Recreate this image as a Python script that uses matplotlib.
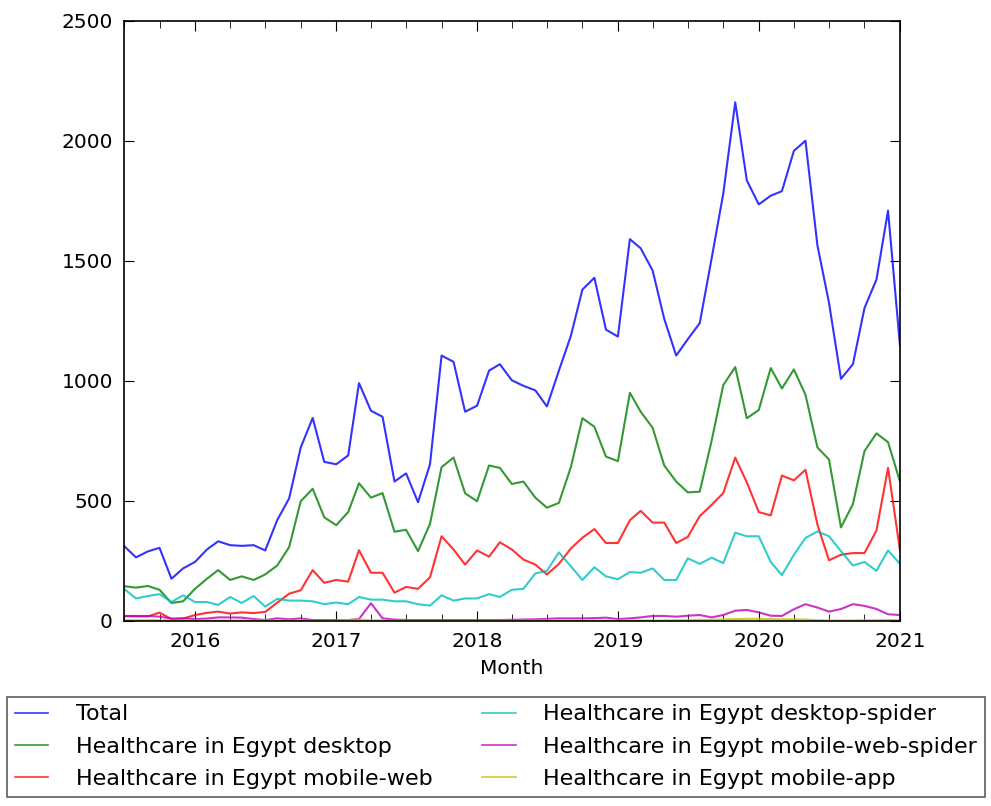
import matplotlib
matplotlib.use("Agg")
import matplotlib.pyplot as plt
import matplotlib.dates as mdates
import pandas as pd
import numpy as np

months = pd.date_range("2015-07-01", "2021-01-01", freq="MS")

total = [313, 265, 290, 305, 176, 219,
         246, 298, 332, 316, 313, 316, 294, 420, 511, 723, 846, 663,
         653, 690, 991, 876, 851, 581, 615, 495, 653, 1106, 1080, 872,
         897, 1043, 1070, 1003, 980, 961, 894, 1043, 1188, 1381, 1430, 1214,
         1185, 1591, 1553, 1460, 1259, 1106, 1174, 1241, 1512, 1781, 2161, 1836,
         1736, 1772, 1791, 1959, 2001, 1565, 1326, 1009, 1070, 1304, 1423, 1710,
         1147]
desktop = [145, 139, 146, 130, 75, 82,
           134, 176, 212, 171, 186, 171, 194, 231, 308, 499, 551, 432,
           399, 454, 574, 514, 533, 372, 380, 291, 405, 641, 681, 532,
           499, 648, 638, 571, 581, 514, 472, 492, 641, 845, 809, 685,
           666, 951, 872, 805, 648, 581, 536, 539, 752, 983, 1058, 845,
           879, 1054, 969, 1048, 943, 723, 673, 390, 487, 708, 782, 745,
           581]
mobile_web = [20, 19, 19, 35, 8, 10,
              25, 34, 39, 31, 36, 33, 38, 76, 114, 128, 212, 159,
              171, 164, 295, 201, 201, 118, 142, 134, 182, 353, 298, 235,
              294, 268, 328, 298, 256, 235, 194, 238, 302, 347, 383, 325,
              325, 420, 459, 410, 410, 325, 350, 437, 484, 533, 681, 578,
              454, 440, 606, 586, 630, 402, 253, 276, 283, 283, 377, 638,
              294]
desktop_spider = [134, 94, 104, 112, 79, 107,
                  79, 79, 67, 100, 75, 104, 60, 92, 85, 85, 82, 70,
                  77, 70, 100, 89, 89, 82, 82, 70, 64, 107, 85, 94,
                  94, 112, 100, 130, 134, 198, 209, 286, 228, 171, 224, 186,
                  174, 204, 201, 219, 171, 171, 261, 238, 264, 241, 368, 353,
                  353, 246, 191, 276, 346, 373, 353, 291, 231, 246, 209, 294,
                  238]
mobile_web_spider = [21, 21, 21, 18, 10, 11,
                     8, 10, 15, 15, 14, 8, 4, 11, 7, 11, 4, 4,
                     4, 4, 8, 74, 11, 6, 4, 4, 4, 4, 4, 4,
                     4, 4, 4, 5, 6, 7, 9, 11, 11, 11, 12, 14,
                     8, 11, 15, 21, 21, 18, 22, 25, 15, 25, 43, 46,
                     36, 22, 21, 49, 70, 56, 39, 50, 70, 63, 50, 28,
                     25]
mobile_app = [3, 3, 3, 3, 2, 2,
              2, 2, 2, 2, 2, 2, 2, 2, 2, 1, 1, 1,
              2, 4, 6, 3, 2, 1, 1, 1, 1, 1, 1, 1,
              1, 1, 1, 1, 1, 2, 2, 2, 2, 2, 2, 2,
              2, 2, 2, 2, 2, 3, 3, 5, 5, 7, 8, 9,
              9, 8, 7, 7, 6, 3, 2, 2, 2, 3, 3, 4,
              4]

series = [
    ("Total", total, "b"),
    ("Healthcare in Egypt desktop", desktop, "g"),
    ("Healthcare in Egypt mobile-web", mobile_web, "r"),
    ("Healthcare in Egypt desktop-spider", desktop_spider, "c"),
    ("Healthcare in Egypt mobile-web-spider", mobile_web_spider, "m"),
    ("Healthcare in Egypt mobile-app", mobile_app, "y"),
]

plt.rcParams["font.family"] = ["DejaVu Sans"]
plt.rcParams["font.size"] = 14.5

fig = plt.figure(figsize=(9.91, 8.06), dpi=100, facecolor="white")
ax = fig.add_axes([124 / 991, 185 / 806, 776 / 991, 600 / 806])

handles = []
for name, vals, col in series:
    h, = ax.plot(months, vals, color=col, lw=1.5, alpha=0.8, label=name)
    handles.append(h)

ax.set_xlim(pd.Timestamp("2015-07-01"), pd.Timestamp("2021-01-01"))
ax.set_ylim(0, 2500)
ax.set_yticks([0, 500, 1000, 1500, 2000, 2500])
ax.xaxis.set_major_locator(mdates.YearLocator())
ax.xaxis.set_major_formatter(mdates.DateFormatter("%Y"))
ax.xaxis.set_minor_locator(mdates.MonthLocator(bymonth=[1, 4, 7, 10]))
ax.tick_params(which="both", direction="in", top=True, right=True, labelsize=14.5)
ax.tick_params(which="major", length=7, pad=8)
ax.tick_params(which="minor", length=5)
for s in ax.spines.values():
    s.set_linewidth(1.2)
ax.set_xlabel("Month", fontsize=14.5, labelpad=6)

leg = fig.legend(handles=handles, loc="lower left", ncol=2, mode="expand",
                 bbox_to_anchor=(7 / 991, 9 / 806, 978 / 991, 101 / 806),
                 fontsize=16, frameon=True, fancybox=False, edgecolor="#333333",
                 borderaxespad=0, borderpad=0.35, handlelength=1.5,
                 handletextpad=1.25, labelspacing=0.56)
leg.get_frame().set_linewidth(1.2)
for lh in leg.get_lines():
    lh.set_linewidth(1.2)

fig.savefig("out.png", dpi=100, facecolor="white")
